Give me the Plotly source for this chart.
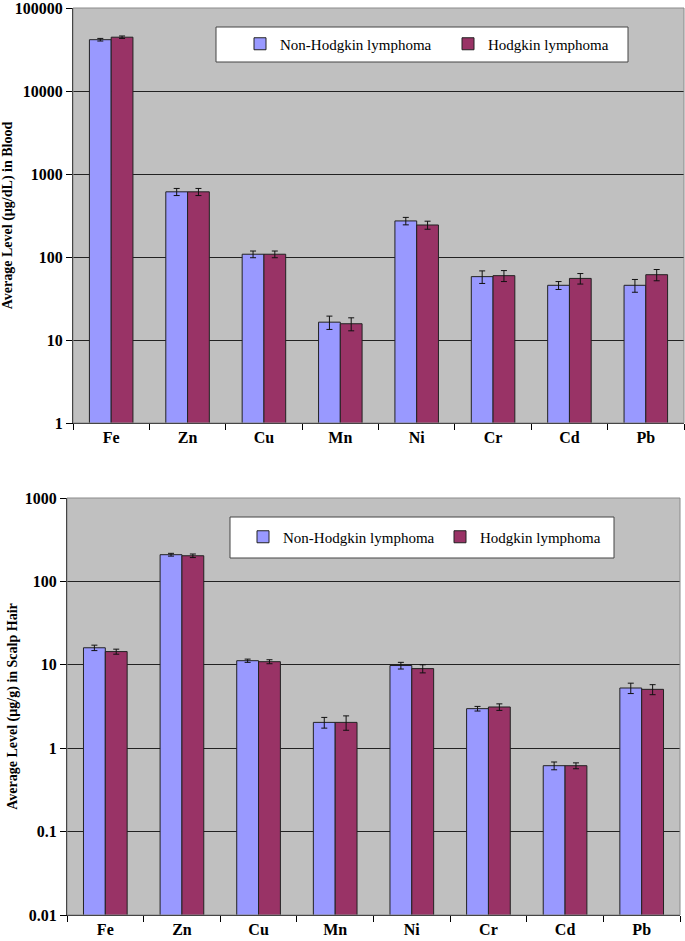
import plotly.graph_objects as go

elements = ["Fe", "Zn", "Cu", "Mn", "Ni", "Cr", "Cd", "Pb"]

blood_nhl = [41500, 610, 108, 16.4, 272, 58, 45.6, 45.6]
blood_nhl_err = [1500, 60, 10, 3.0, 28, 10, 5, 8]
blood_hl = [44500, 610, 108, 15.7, 243, 59.6, 55.2, 61.2]
blood_hl_err = [1500, 60, 10, 2.8, 27, 9, 8, 9.5]

hair_nhl = [16.0, 209, 11.2, 2.04, 9.8, 2.98, 0.617, 5.27]
hair_nhl_err = [1.2, 8, 0.5, 0.3, 0.9, 0.19, 0.066, 0.75]
hair_hl = [14.4, 203, 10.9, 2.04, 9.0, 3.12, 0.617, 5.08]
hair_hl_err = [1.0, 10, 0.6, 0.4, 1.0, 0.28, 0.05, 0.7]

series_names = ["Non-Hodgkin lymphoma", "Hodgkin lymphoma"]
colors = ["#9999FF", "#993366"]

blood_ticks = [1, 10, 100, 1000, 10000, 100000]
hair_ticks = [0.01, 0.1, 1, 10, 100, 1000]

W, H = 685, 941
FONT = "Liberation Serif"

fig = go.Figure()

def add_bars(vals, errs, name, color, xa, ya, legend):
    fig.add_trace(go.Bar(
        x=elements, y=vals, name=name, xaxis=xa, yaxis=ya, legend=legend,
        marker=dict(color=color, line=dict(color="#222222", width=1)),
        error_y=dict(type="data", array=errs, visible=True, color="#111111",
                     thickness=1, width=3),
    ))

add_bars(blood_nhl, blood_nhl_err, series_names[0], colors[0], "x", "y", "legend")
add_bars(blood_hl, blood_hl_err, series_names[1], colors[1], "x", "y", "legend")
add_bars(hair_nhl, hair_nhl_err, series_names[0], colors[0], "x2", "y2", "legend2")
add_bars(hair_hl, hair_hl_err, series_names[1], colors[1], "x2", "y2", "legend2")

def px_x(p):
    return p / W

def px_y(p):
    return 1 - p / H

top = dict(x0=73, x1=684, y0=8, y1=423)
bot = dict(x0=67, x1=680, y0=498, y1=915)

axis_font = dict(family=FONT, size=16, color="black", weight="bold")
title_font = dict(family=FONT, size=14, color="black", weight="bold")
legend_font = dict(family=FONT, size=15, color="black")

common_x = dict(type="category", showgrid=False, ticks="outside", tickson="boundaries",
                ticklen=6, tickcolor="black", showline=True, linecolor="black",
                linewidth=1, tickfont=axis_font, ticklabeloverflow="allow")
common_y = dict(type="log", showgrid=True, gridcolor="#222222", gridwidth=1,
                ticks="outside", ticklen=6, tickcolor="black", showline=True,
                linecolor="black", linewidth=1, tickfont=axis_font, zeroline=False,
                ticklabeloverflow="allow")

fig.update_layout(
    width=W, height=H,
    margin=dict(l=0, r=0, t=0, b=0, autoexpand=False),
    paper_bgcolor="white",
    plot_bgcolor="#C0C0C0",
    barmode="group",
    bargap=0.43,
    bargroupgap=0,
    font=dict(family=FONT, color="black"),
    xaxis=dict(common_x, domain=[px_x(top["x0"]), px_x(top["x1"])], anchor="y"),
    yaxis=dict(common_y, domain=[px_y(top["y1"]), px_y(top["y0"])], anchor="x",
               range=[0, 5], tickvals=blood_ticks,
               ticktext=[str(v) for v in blood_ticks],
               title=dict(text="Average Level (µg/dL) in Blood", font=title_font,
                          standoff=3)),
    xaxis2=dict(common_x, domain=[px_x(bot["x0"]), px_x(bot["x1"])], anchor="y2"),
    yaxis2=dict(common_y, domain=[px_y(bot["y1"]), px_y(bot["y0"])], anchor="x2",
                range=[-2, 3], tickvals=hair_ticks,
                ticktext=[str(v) for v in hair_ticks],
                title=dict(text="Average Level (µg/g) in Scalp Hair", font=title_font,
                           standoff=3)),
    legend=dict(orientation="h", x=px_x(240), y=px_y(44), xanchor="left", yanchor="middle",
                bgcolor="rgba(0,0,0,0)", font=legend_font,
                entrywidth=163, entrywidthmode="pixels", itemwidth=30, traceorder="normal"),
    legend2=dict(orientation="h", x=px_x(243), y=px_y(537), xanchor="left", yanchor="middle",
                 bgcolor="rgba(0,0,0,0)", font=legend_font,
                 entrywidth=152, entrywidthmode="pixels", itemwidth=30, traceorder="normal"),
    shapes=[
        dict(type="rect", xref="paper", yref="paper",
             x0=px_x(top["x0"]), x1=px_x(top["x1"]), y0=px_y(top["y1"]), y1=px_y(top["y0"]),
             line=dict(color="#8a8a8a", width=1), layer="above"),
        dict(type="rect", xref="paper", yref="paper",
             x0=px_x(bot["x0"]), x1=px_x(bot["x1"]), y0=px_y(bot["y1"]), y1=px_y(bot["y0"]),
             line=dict(color="#8a8a8a", width=1), layer="above"),
        dict(type="rect", xref="paper", yref="paper",
             x0=px_x(216), x1=px_x(628), y0=px_y(62), y1=px_y(27),
             fillcolor="white", line=dict(color="#444444", width=1), layer="below"),
        dict(type="rect", xref="paper", yref="paper",
             x0=px_x(230), x1=px_x(614), y0=px_y(558), y1=px_y(517),
             fillcolor="white", line=dict(color="#444444", width=1), layer="below"),
    ],
)

fig.write_html("out.html", config={"displayModeBar": False},
               post_script="document.body.style.margin='0';")
